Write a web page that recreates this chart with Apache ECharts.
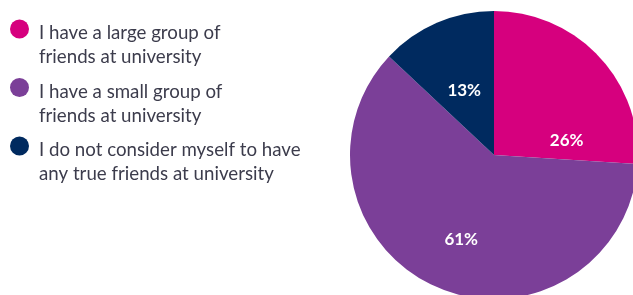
<!DOCTYPE html>
<html>
<head>
<meta charset="utf-8">
<script src="https://cdn.jsdelivr.net/npm/echarts@6/dist/echarts.min.js"></script>
<style>
  html, body { margin: 0; padding: 0; background: #fff; }
  #chart { width: 633px; height: 295px; }
</style>
</head>
<body>
<div id="chart"></div>
<script>
// legend labels (two lines each) and share of students
var names = [
    'I have a large group of\nfriends at university',
    'I have a small group of\nfriends at university',
    'I do not consider myself to have\nany true friends at university'
];
var values = [26, 61, 13];
var colors = ['#d6007e', '#7b3f98', '#002a5f'];
// nudges so the % labels sit where the original put them
var labelShift = [[18, 37], [-3, 16], [0, 4]];

var chart = echarts.init(document.getElementById('chart'));

var pieData = [];
for (var i = 0; i < names.length; i++) {
    pieData.push({
        name: names[i],
        value: values[i],
        itemStyle: { color: colors[i] },
        label: { offset: labelShift[i] }
    });
}

var option = {
    animation: false,
    legend: {
        orient: 'vertical',
        left: 10,
        top: 0,
        padding: 0,
        itemGap: -8,
        itemWidth: 19,
        itemHeight: 19,
        icon: 'circle',
        selectedMode: false,
        data: names,
        // blank first line so the marker lines up with the first text line
        formatter: function(name) {
            var parts = name.split('\n');
            return '{s| }\n{t|' + parts[0] + '}\n{t|' + parts[1] + '}';
        },
        textStyle: {
            fontFamily: 'Lato',
            fontSize: 18.7,
            color: '#3c3c4c',
            padding: [0, 0, 0, 5],
            rich: {
                s: { lineHeight: 32, fontSize: 10 },
                t: {
                    fontFamily: 'Lato',
                    fontSize: 18.7,
                    color: '#3c3c4c',
                    lineHeight: 24
                }
            }
        }
    },
    series: [{
        type: 'pie',
        center: [494, 155],
        radius: 144,
        startAngle: 90,
        clockwise: true,
        silent: true,
        label: {
            show: true,
            position: 'inside',
            formatter: '{c}%',
            color: '#fff',
            fontFamily: 'Lato',
            fontWeight: 'bold',
            fontSize: 17
        },
        labelLine: { show: false },
        data: pieData
    }]
};

chart.setOption(option);
</script>
</body>
</html>
